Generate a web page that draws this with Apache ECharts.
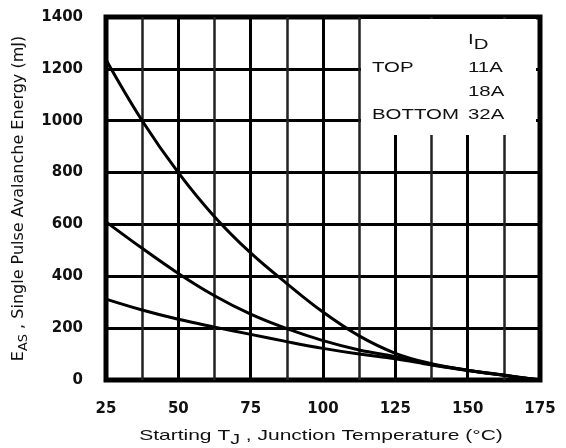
<!DOCTYPE html>
<html>
<head>
<meta charset="utf-8">
<script src="https://cdn.jsdelivr.net/npm/echarts@6/dist/echarts.min.js"></script>
<style>
  html, body { margin: 0; padding: 0; background: #fff; }
  #chart { width: 566px; height: 448px; }
</style>
</head>
<body>
<div id="chart"></div>
<script>
// Starting junction temperature (°C)
const temps = [25, 37.5, 50, 62.5, 75, 87.5, 100, 112.5, 125, 137.5, 150, 162.5, 175];

// Single pulse avalanche energy (mJ) per drain current
const eas11A = [1235, 1000, 800, 630, 490, 372, 262, 170, 103, 63, 38, 18, 0];
const eas18A = [610, 508, 411, 325, 254, 198, 152, 116, 90, 60, 38, 19, 0];
const eas32A = [312, 270, 234, 204, 176, 148, 122, 100, 82, 58, 37, 18, 0];

const seriesNames = ["11A", "18A", "32A"];
const seriesData = [eas11A, eas18A, eas32A];
const legendPos = ["TOP", "", "BOTTOM"];

const xTitle = "Starting T{sub|J} , Junction Temperature (°C)";
const yTitle = "E{sub|AS} , Single Pulse Avalanche Energy (mJ)";

const chart = echarts.init(document.getElementById("chart"));

const TXT = "#111";
const FONT = "DejaVu Sans";
const SANS = "15px 'Liberation Sans'";

const pairs = (ys) => temps.map((t, i) => [t, ys[i]]);

// legend block drawn as text, like the datasheet table
const legendEls = [
  {
    type: "rect",
    shape: { x: 361, y: 19, width: 175, height: 116 },
    style: { fill: "#fff" },
    z: 10
  },
  {
    type: "text",
    x: 468, y: 27,
    scaleX: 1.36,
    style: {
      text: "I{sub|D}",
      font: SANS,
      fill: TXT,
      rich: { sub: { fontSize: 15, fontFamily: "Liberation Sans", padding: [10, 0, 0, 0] } }
    },
    z: 11
  },
  // x axis title, stretched like the original scan
  {
    type: "text",
    x: 321, y: 436,
    scaleX: 1.4,
    style: {
      text: xTitle,
      font: SANS,
      fill: TXT,
      align: "center",
      verticalAlign: "middle",
      rich: { sub: { fontSize: 14, fontFamily: "Liberation Sans", padding: [9, 0, 0, 0] } }
    },
    z: 11
  }
];
const rowY = [68, 92, 115];
seriesNames.forEach((name, i) => {
  if (legendPos[i]) {
    legendEls.push({
      type: "text", x: 372, y: rowY[i], scaleX: 1.36,
      style: { text: legendPos[i], font: SANS, fill: TXT, verticalAlign: "middle" },
      z: 11
    });
  }
  legendEls.push({
    type: "text", x: 468, y: rowY[i], scaleX: 1.36,
    style: { text: name, font: SANS, fill: TXT, verticalAlign: "middle" },
    z: 11
  });
});

const option = {
  backgroundColor: "#fff",
  animation: false,
  grid: {
    left: 106,
    right: 26,
    top: 17,
    bottom: 68,
    show: true,
    borderColor: "#000",
    borderWidth: 5
  },
  xAxis: {
    type: "value",
    min: 25,
    max: 175,
    interval: 25,
    axisLine: { show: false },
    axisTick: { show: false },
    axisLabel: { color: TXT, fontFamily: FONT, fontWeight: "bold", fontSize: 15, margin: 22 },
    splitLine: { show: true, lineStyle: { color: "#000", width: 3 } },
    minorTick: { show: false, splitNumber: 2 },
    minorSplitLine: { show: true, lineStyle: { color: "#222", width: 2.5 } }
  },
  yAxis: {
    type: "value",
    min: 0,
    max: 1400,
    interval: 200,
    name: yTitle,
    nameLocation: "middle",
    nameRotate: 90,
    nameGap: 76,
    nameTextStyle: {
      color: TXT,
      fontFamily: FONT,
      fontSize: 16,
      rich: { sub: { fontFamily: FONT, fontSize: 13, color: TXT, padding: [9, 0, 0, 0] } }
    },
    axisLine: { show: false },
    axisTick: { show: false },
    axisLabel: {
      color: TXT, fontFamily: FONT, fontWeight: "bold", fontSize: 15, margin: 23,
      formatter: (v) => String(v)
    },
    splitLine: { show: true, lineStyle: { color: "#000", width: 3 } }
  },
  graphic: legendEls,
  series: seriesData.map((ys, i) => ({
    name: seriesNames[i],
    type: "line",
    data: pairs(ys),
    smooth: 0.4,
    showSymbol: false,
    lineStyle: { color: "#000", width: 3 },
    z: 5
  }))
};

chart.setOption(option);
</script>
</body>
</html>
